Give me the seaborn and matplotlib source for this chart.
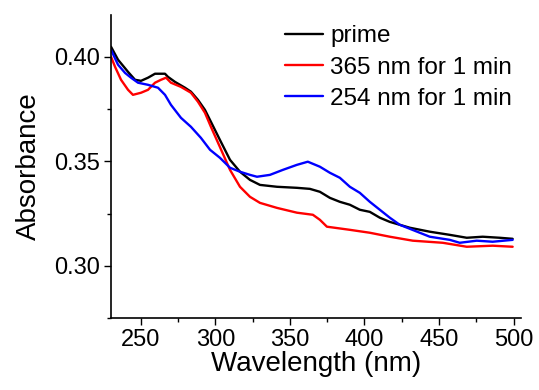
import pandas as pd
import matplotlib
matplotlib.use('Agg')
import matplotlib.pyplot as plt
from matplotlib.ticker import AutoMinorLocator, MultipleLocator
import seaborn as sns

#%% data
wl_prime = [230, 234.7, 241.4, 246.1, 250.1, 254.8, 259.5, 266.2, 268.2, 272.9,
            279.6, 283.6, 288.3, 293, 297, 303, 309.8, 316.5, 323.2, 329.9,
            341.3, 354.7, 363.4, 370.1, 376.8, 383.5, 390.2, 396.9, 403.6, 410.3,
            417, 423.7, 430.4, 443.8, 457.2, 468.6, 479.3, 490.7, 499.4]
abs_prime = [0.4048, 0.3986, 0.3928, 0.389, 0.3885, 0.390, 0.3919, 0.3919, 0.3904, 0.388,
             0.3852, 0.3833, 0.3794, 0.3746, 0.3689, 0.3603, 0.3507, 0.345, 0.3411, 0.3387,
             0.3378, 0.3373, 0.3368, 0.3354, 0.3325, 0.3306, 0.3292, 0.3268, 0.3258, 0.323,
             0.321, 0.3196, 0.3182, 0.3163, 0.3148, 0.3134, 0.3139, 0.3134, 0.3129]

wl_365 = [230, 232.7, 236.7, 241.4, 244.7, 250.1, 254.8, 259.5, 263.5, 266.9,
          270.2, 276.9, 283.6, 288.3, 293, 297, 303, 309.8, 316.5, 323.2,
          329.9, 341.3, 354.7, 365.4, 370.1, 374.8, 390.2, 403.6, 417, 432.4,
          452.5, 468.6, 486, 499.4]
abs_365 = [0.400, 0.3952, 0.389, 0.3842, 0.3818, 0.3828, 0.3842, 0.3876, 0.389, 0.390,
           0.3876, 0.3856, 0.3828, 0.3785, 0.3732, 0.3665, 0.3569, 0.3459, 0.3378, 0.333,
           0.3301, 0.3277, 0.3254, 0.3244, 0.322, 0.3187, 0.3172, 0.3158, 0.3139, 0.312,
           0.311, 0.3091, 0.3096, 0.3091]

wl_254 = [230, 234.7, 239.4, 243.4, 248.1, 254.8, 261.5, 266.2, 270.2, 276.9,
          283.6, 290.3, 296.4, 303, 309.8, 316.5, 323.2, 327.9, 336.6, 345.3,
          354.7, 362, 370.1, 376.8, 383.5, 390.2, 396.9, 403.6, 410.3, 417,
          423.7, 430.4, 443.8, 457.2, 463.9, 475.3, 486, 499.4]
abs_254 = [0.4033, 0.3962, 0.3923, 0.390, 0.3876, 0.3866, 0.3852, 0.3818, 0.377, 0.3708,
           0.3665, 0.3612, 0.3555, 0.3517, 0.3469, 0.345, 0.3435, 0.3426, 0.3435, 0.3459,
           0.3483, 0.3498, 0.3474, 0.3445, 0.3421, 0.3378, 0.3349, 0.3306, 0.3268, 0.323,
           0.3196, 0.3177, 0.3139, 0.3124, 0.311, 0.312, 0.3115, 0.3124]

labels = ['prime', '365 nm for 1 min', '254 nm for 1 min']
colors = ['black', 'red', 'blue']

#%% plot
sns.set_style("ticks")
plt.rcParams['font.family'] = ['Liberation Sans', 'DejaVu Sans']
for k in ['text.color', 'axes.labelcolor', 'xtick.color', 'ytick.color', 'axes.edgecolor']:
    plt.rcParams[k] = 'black'

fig = plt.figure(figsize=(5.39, 3.90), dpi=100)
ax = fig.add_axes([0.206, 0.1846, 0.7606, 0.7769])

series = [(wl_prime, abs_prime), (wl_365, abs_365), (wl_254, abs_254)]
for (wl, ab), lab, col in zip(series, labels, colors):
    df = pd.DataFrame({'wl': wl, 'abs': ab})
    sns.lineplot(data=df, x='wl', y='abs', color=col, label=lab, lw=1.7, ax=ax)

ax.set_xlim(230, 505)
ax.set_ylim(0.275, 0.42)
ax.xaxis.set_major_locator(MultipleLocator(50))
ax.yaxis.set_major_locator(MultipleLocator(0.05))
ax.xaxis.set_minor_locator(AutoMinorLocator(2))
ax.yaxis.set_minor_locator(AutoMinorLocator(2))
ax.yaxis.set_major_formatter(matplotlib.ticker.FormatStrFormatter('%.2f'))
ax.tick_params(which='major', length=5, width=1, labelsize=17, pad=3, direction='out')
ax.tick_params(which='minor', length=3, width=1, direction='out')
sns.despine(ax=ax)
for s in ['left', 'bottom']:
    ax.spines[s].set_linewidth(1.2)

ax.set_xlabel('Wavelength (nm)', fontsize=20, labelpad=0)
ax.set_ylabel('Absorbance', fontsize=20, labelpad=9)

leg = ax.legend(loc='upper left', bbox_to_anchor=(0.529, 0.935), bbox_transform=fig.transFigure,
                frameon=False, fontsize=17.5, handlelength=1.55, handletextpad=0.3,
                labelspacing=0.38, borderpad=0, borderaxespad=0)

fig.savefig('out.png', dpi=100)
